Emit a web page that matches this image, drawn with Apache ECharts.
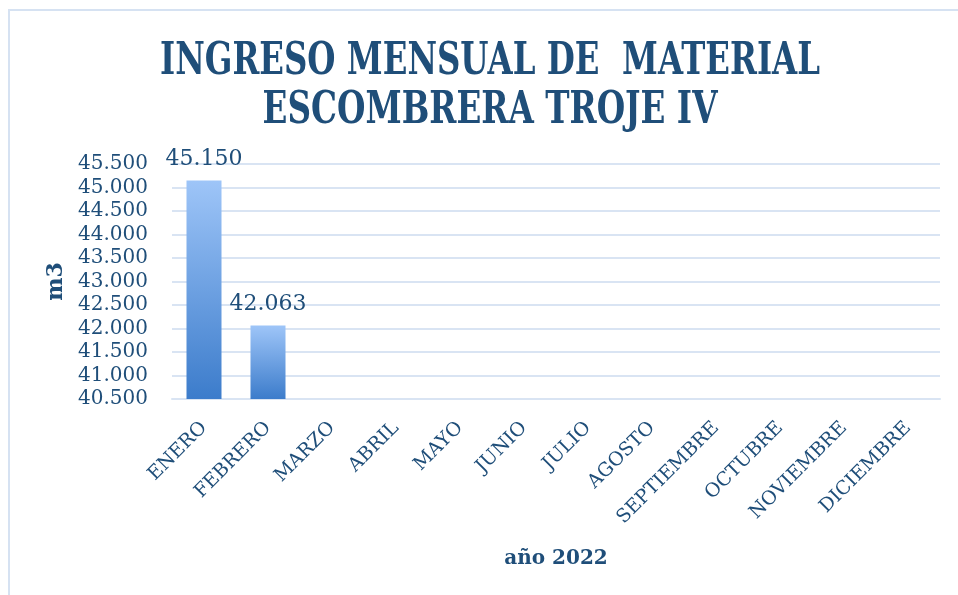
<!DOCTYPE html>
<html>
<head>
<meta charset="utf-8">
<script src="https://cdn.jsdelivr.net/npm/echarts@6/dist/echarts.min.js"></script>
<style>
  html, body { margin: 0; padding: 0; background: #fff; }
  #chart { width: 958px; height: 595px; }
</style>
</head>
<body>
<div id="chart"></div>
<script>
var meses = ['ENERO', 'FEBRERO', 'MARZO', 'ABRIL', 'MAYO', 'JUNIO', 'JULIO',
             'AGOSTO', 'SEPTIEMBRE', 'OCTUBRE', 'NOVIEMBRE', 'DICIEMBRE'];
var ingreso = [45150, 42063, null, null, null, null, null, null, null, null, null, null];
var titulo1 = 'INGRESO MENSUAL DE  MATERIAL';
var titulo2 = 'ESCOMBRERA TROJE IV';

var azul = '#1F4E79';
var titleFont = 'bold 46px "DejaVu Serif"';

// miles con punto: 45150 -> 45.150
function fmt(v) {
    return String(v).replace(/\B(?=(\d{3})+(?!\d))/g, '.');
}
// ancho del titulo comprimido como en el original
function scaleTo(text, font, width) {
    var ctx = document.createElement('canvas').getContext('2d');
    ctx.font = font;
    return width / ctx.measureText(text).width;
}

var chart = echarts.init(document.getElementById('chart'));
var option = {
    animation: false,
    graphic: [
        {
            type: 'rect',
            shape: { x: 9, y: 10, width: 960, height: 600 },
            style: { fill: 'none', stroke: '#D6E2F2', lineWidth: 2 }
        },
        {
            type: 'text', x: 490, y: 62,
            scaleX: scaleTo(titulo1, titleFont, 660), scaleY: 0.97,
            style: { text: titulo1, font: titleFont, fill: azul, textAlign: 'center', textVerticalAlign: 'middle' }
        },
        {
            type: 'text', x: 490, y: 111,
            scaleX: scaleTo(titulo2, titleFont, 455), scaleY: 0.97,
            style: { text: titulo2, font: titleFont, fill: azul, textAlign: 'center', textVerticalAlign: 'middle' }
        }
    ],
    grid: { left: 172, right: 18, top: 164, bottom: 196 },
    xAxis: {
        type: 'category',
        data: meses,
        name: 'año 2022',
        nameLocation: 'middle',
        nameGap: 150,
        nameTextStyle: { color: azul, fontFamily: 'DejaVu Serif', fontWeight: 'bold', fontSize: 20 },
        axisLine: { lineStyle: { color: '#D9E4F3', width: 2 } },
        axisTick: { show: false },
        axisLabel: { rotate: 45, margin: 26, color: azul, fontFamily: 'DejaVu Serif', fontSize: 19, interval: 0 }
    },
    yAxis: {
        type: 'value',
        min: 40500,
        max: 45500,
        interval: 500,
        name: 'm3',
        nameLocation: 'middle',
        nameRotate: 90,
        nameGap: 102,
        nameTextStyle: { color: azul, fontFamily: 'DejaVu Serif', fontWeight: 'bold', fontSize: 22 },
        axisLine: { show: false },
        axisTick: { show: false },
        axisLabel: { margin: 24, color: azul, fontFamily: 'DejaVu Serif', fontSize: 20, formatter: fmt },
        splitLine: { lineStyle: { color: '#D9E4F3', width: 2 } }
    },
    series: [
        {
            type: 'bar',
            data: ingreso,
            barWidth: 35,
            itemStyle: {
                color: new echarts.graphic.LinearGradient(0, 0, 0, 1, [
                    { offset: 0, color: '#9EC5F8' },
                    { offset: 1, color: '#3C7CCB' }
                ])
            },
            label: {
                show: true,
                position: 'top',
                distance: 10,
                color: azul,
                fontFamily: 'DejaVu Serif',
                fontSize: 22,
                formatter: function (p) { return fmt(p.value); }
            }
        }
    ]
};
chart.setOption(option);
</script>
</body>
</html>
